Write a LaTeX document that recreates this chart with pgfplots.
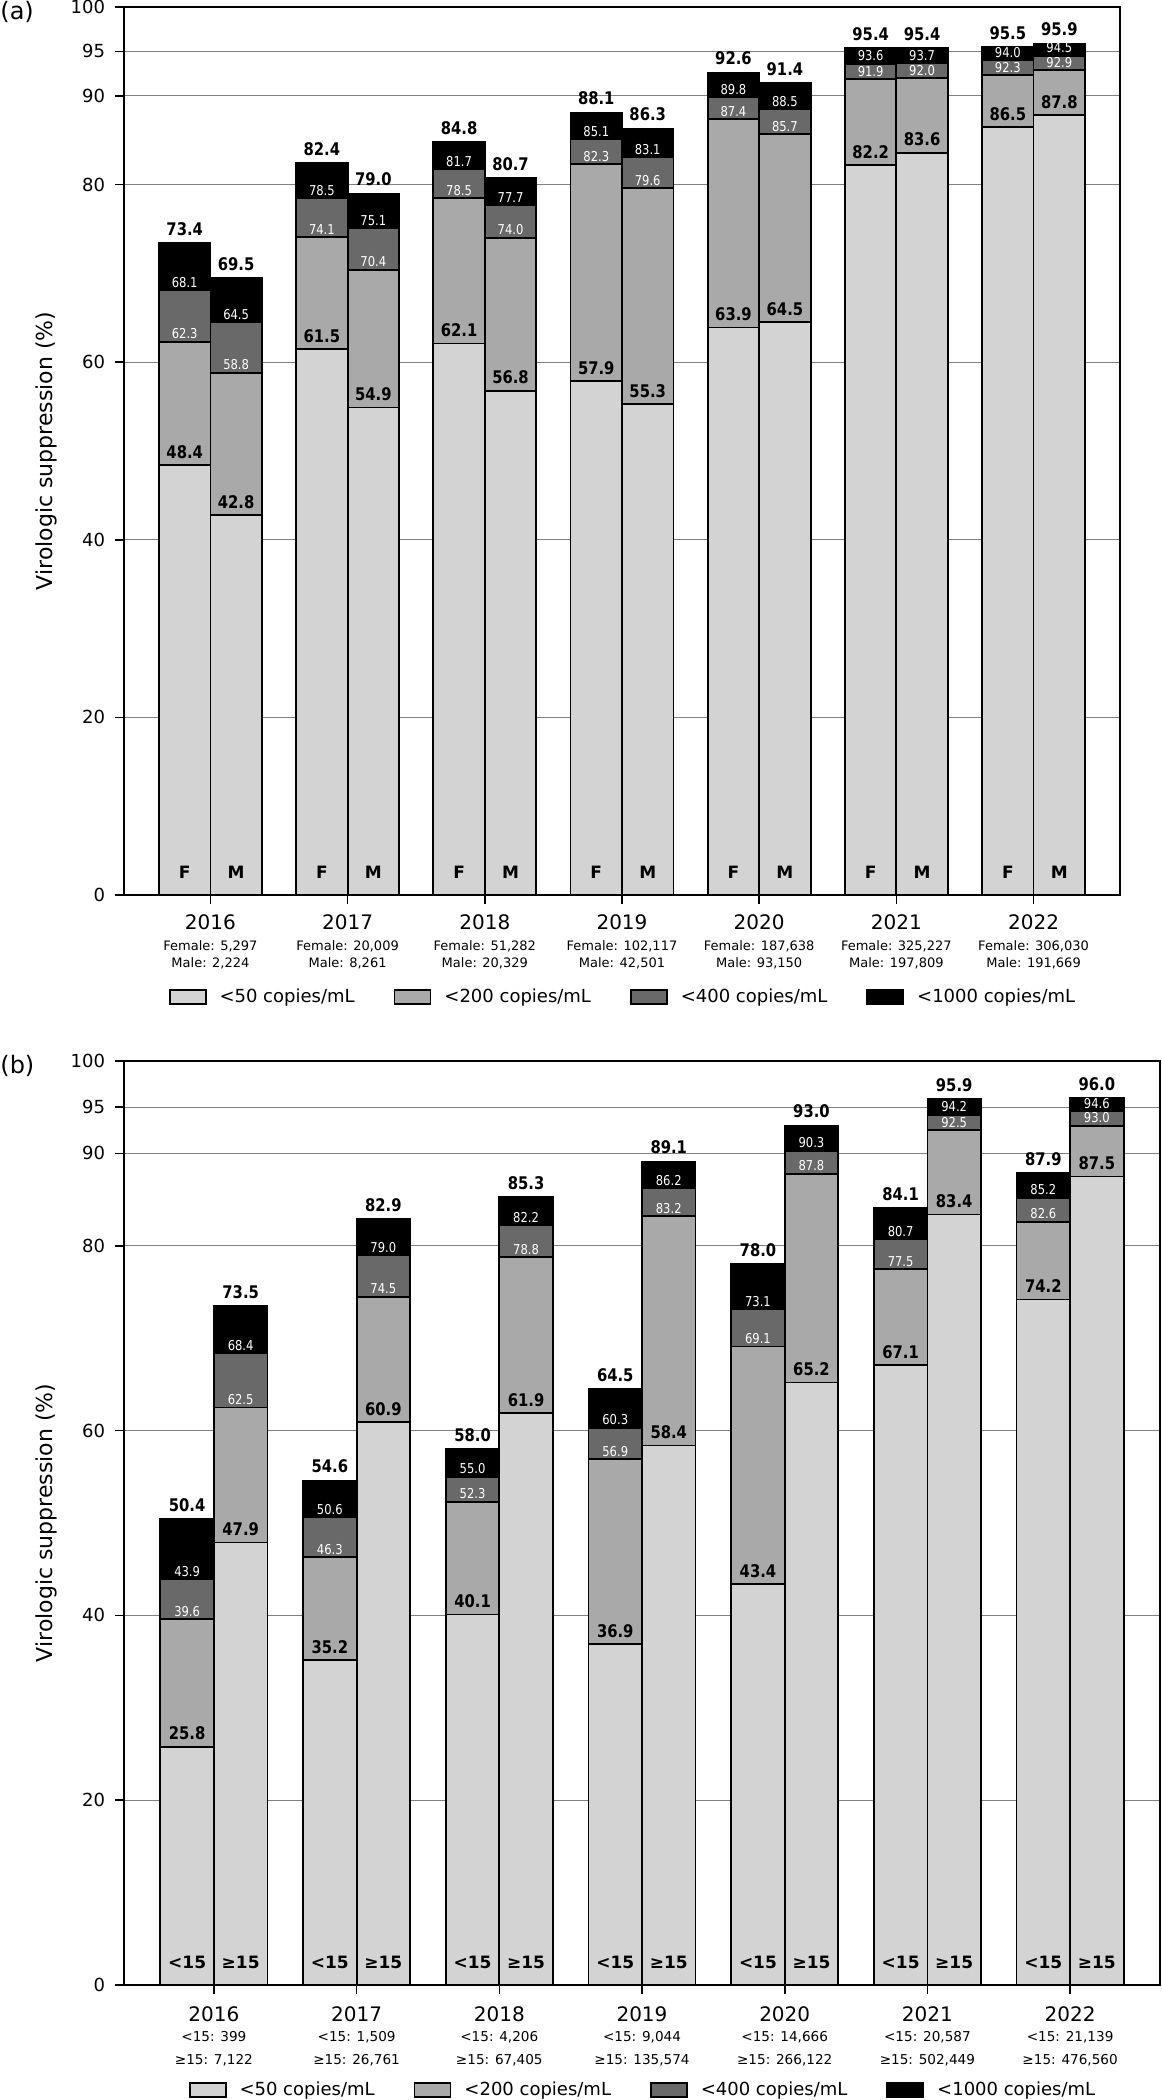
\documentclass[border=0pt]{standalone}
\usepackage{fontspec}
\setmainfont{DejaVu Sans}
\newfontfamily\condfont[FakeStretch=0.85]{DejaVu Sans}
\usepackage{pgfplots}
\usepackage{pgfplotstable}
\pgfplotsset{compat=1.18}
\definecolor{c50}{HTML}{D3D3D3}
\definecolor{c200}{HTML}{A9A9A9}
\definecolor{c400}{HTML}{696969}
\newcommand\vbold{\condfont\bfseries\fontsize{8.7}{10}\selectfont}
\newcommand\vsmall{\condfont\fontsize{6.8}{8}\selectfont}
\newcommand\gbold{\bfseries\fontsize{8.5}{10}\selectfont}
\newcommand\nfont{\fontsize{6.5}{7.5}\selectfont}
\newcommand\nfontb{\fontsize{6.8}{8}\selectfont}
\newcommand\yfont{\fontsize{10}{12}\selectfont}

\pgfplotstableread{
x l50 l200 l400 l1000
0 48.4 62.3 68.1 73.4
1 61.5 74.1 78.5 82.4
2 62.1 78.5 81.7 84.8
3 57.9 82.3 85.1 88.1
4 63.9 87.4 89.8 92.6
5 82.2 91.9 93.6 95.4
6 86.5 92.3 94.0 95.5
}\aF
\pgfplotstableread{
x l50 l200 l400 l1000
0 42.8 58.8 64.5 69.5
1 54.9 70.4 75.1 79.0
2 56.8 74.0 77.7 80.7
3 55.3 79.6 83.1 86.3
4 64.5 85.7 88.5 91.4
5 83.6 92.0 93.7 95.4
6 87.8 92.9 94.5 95.9
}\aM
\pgfplotstableread{
x l50 l200 l400 l1000
0 25.8 39.6 43.9 50.4
1 35.2 46.3 50.6 54.6
2 40.1 52.3 55.0 58.0
3 36.9 56.9 60.3 64.5
4 43.4 69.1 73.1 78.0
5 67.1 77.5 80.7 84.1
6 74.2 82.6 85.2 87.9
}\bY
\pgfplotstableread{
x l50 l200 l400 l1000
0 47.9 62.5 68.4 73.5
1 60.9 74.5 79.0 82.9
2 61.9 78.8 82.2 85.3
3 58.4 83.2 86.2 89.1
4 65.2 87.8 90.3 93.0
5 83.4 92.5 94.2 95.9
6 87.5 93.0 94.6 96.0
}\bO

\pgfplotsset{
  /pgf/number format/assume math mode=true,
  panel/.style={
    scale only axis, anchor=south west,
    xmin=-0.63, xmax=6.63, ymin=0, ymax=100,
    xtick={0,...,6}, xticklabels={2016,2017,2018,2019,2020,2021,2022},
    ytick={0,20,40,60,80,90,95,100},
    tick align=outside, tick pos=left, major tick length=4.5pt,
    tick style={black, line width=0.8pt},
    axis line style={black, line width=1pt},
    ymajorgrids, major grid style={gray, line width=0.6pt},
    clip=false,
    yticklabel style={font=\fontsize{9}{10}\selectfont, anchor=east, inner sep=0pt, xshift=-4.75pt},
    every axis y label/.style={at={(axis description cs:0,0.5)}, anchor=center, xshift=-39pt, rotate=90, font=\fontsize{11}{13}\selectfont},
    ylabel={Virologic suppression (\%)},
    legend columns=4,
    legend style={draw=none, fill=none, anchor=center, font=\fontsize{9}{10}\selectfont,
      /tikz/every odd column/.append style={column sep=6.5pt},
      /tikz/every even column/.append style={column sep=19.5pt},
      nodes={inner sep=0pt}},
  },
  bar/.style={ybar, /pgf/bar width=0.375, /pgf/bar shift=0pt, draw=black, line width=0.9pt, forget plot, point meta=y},
  lblTop/.style={nodes near coords={\pgfmathprintnumber[fixed,fixed zerofill,precision=1]{\pgfplotspointmeta}},
    every node near coord/.append style={font=\vbold, text=black, anchor=south, inner sep=0pt, yshift=3.3pt}},
  lblIn/.style={nodes near coords={\pgfmathprintnumber[fixed,fixed zerofill,precision=1]{\pgfplotspointmeta}},
    every node near coord/.append style={font=\vbold, text=black, anchor=south, inner sep=0pt, yshift=2.8pt}},
  lblSmall/.style={nodes near coords={\pgfmathprintnumber[fixed,fixed zerofill,precision=1]{\pgfplotspointmeta}},
    every node near coord/.append style={font=\vsmall, text=white, anchor=south, inner sep=0pt, yshift=0.9pt}},
  grp/.style={draw=none, forget plot, point meta=explicit symbolic, nodes near coords,
    every node near coord/.append style={font=\gbold, text=black, anchor=center, inner sep=0pt, yshift=11.5pt}},
}

\begin{document}
\begin{tikzpicture}
\path[use as bounding box] (0pt,0pt) rectangle (581pt,-1050pt);
\node[anchor=north west, inner sep=0pt, font=\fontsize{12}{14}\selectfont] at (0pt,-0.5pt) {(a)};
\node[anchor=north west, inner sep=0pt, font=\fontsize{12}{14}\selectfont] at (0pt,-527.5pt) {(b)};

% ---------------- panel (a)
\begin{axis}[panel, at={(62pt,-447.5pt)}, width=498pt, height=444pt,
  xticklabel style={font=\yfont, anchor=north, inner sep=0pt, yshift=-5.15pt},
  legend style={at={(0.5,-0.1149)}},
  legend image code/.code={\draw[#1] (0pt,-3.5pt) rectangle (18pt,3.5pt);}]
\addlegendimage{fill=c50, draw=black, line width=0.9pt}
\addlegendentry{<50 copies/mL}
\addlegendimage{fill=c200, draw=black, line width=0.9pt}
\addlegendentry{<200 copies/mL}
\addlegendimage{fill=c400, draw=black, line width=0.9pt}
\addlegendentry{<400 copies/mL}
\addlegendimage{fill=black, draw=black, line width=0.9pt}
\addlegendentry{<1000 copies/mL}

\addplot[bar, fill=black, lblTop] table[x expr=\thisrow{x}-0.1875, y=l1000] {\aF};
\addplot[bar, fill=c400, lblSmall] table[x expr=\thisrow{x}-0.1875, y=l400] {\aF};
\addplot[bar, fill=c200, lblSmall] table[x expr=\thisrow{x}-0.1875, y=l200] {\aF};
\addplot[bar, fill=c50, lblIn] table[x expr=\thisrow{x}-0.1875, y=l50] {\aF};
\addplot[bar, fill=black, lblTop] table[x expr=\thisrow{x}+0.1875, y=l1000] {\aM};
\addplot[bar, fill=c400, lblSmall] table[x expr=\thisrow{x}+0.1875, y=l400] {\aM};
\addplot[bar, fill=c200, lblSmall] table[x expr=\thisrow{x}+0.1875, y=l200] {\aM};
\addplot[bar, fill=c50, lblIn] table[x expr=\thisrow{x}+0.1875, y=l50] {\aM};

\addplot[grp] table[meta=t] {
x y t
-0.1875 0 F
0.1875 0 M
0.8125 0 F
1.1875 0 M
1.8125 0 F
2.1875 0 M
2.8125 0 F
3.1875 0 M
3.8125 0 F
4.1875 0 M
4.8125 0 F
5.1875 0 M
5.8125 0 F
6.1875 0 M
};

\node[font=\nfont, anchor=base, yshift=-27.85pt] at (axis cs:0,0) {Female: 5,297};
\node[font=\nfont, anchor=base, yshift=-36.15pt] at (axis cs:0,0) {Male: 2,224};
\node[font=\nfont, anchor=base, yshift=-27.85pt] at (axis cs:1,0) {Female: 20,009};
\node[font=\nfont, anchor=base, yshift=-36.15pt] at (axis cs:1,0) {Male: 8,261};
\node[font=\nfont, anchor=base, yshift=-27.85pt] at (axis cs:2,0) {Female: 51,282};
\node[font=\nfont, anchor=base, yshift=-36.15pt] at (axis cs:2,0) {Male: 20,329};
\node[font=\nfont, anchor=base, yshift=-27.85pt] at (axis cs:3,0) {Female: 102,117};
\node[font=\nfont, anchor=base, yshift=-36.15pt] at (axis cs:3,0) {Male: 42,501};
\node[font=\nfont, anchor=base, yshift=-27.85pt] at (axis cs:4,0) {Female: 187,638};
\node[font=\nfont, anchor=base, yshift=-36.15pt] at (axis cs:4,0) {Male: 93,150};
\node[font=\nfont, anchor=base, yshift=-27.85pt] at (axis cs:5,0) {Female: 325,227};
\node[font=\nfont, anchor=base, yshift=-36.15pt] at (axis cs:5,0) {Male: 197,809};
\node[font=\nfont, anchor=base, yshift=-27.85pt] at (axis cs:6,0) {Female: 306,030};
\node[font=\nfont, anchor=base, yshift=-36.15pt] at (axis cs:6,0) {Male: 191,669};
\end{axis}

% ---------------- panel (b)
\begin{axis}[panel, at={(62pt,-992.5pt)}, width=518pt, height=462pt,
  xticklabel style={font=\yfont, anchor=north, inner sep=0pt, yshift=-6.05pt},
  legend style={at={(0.5,-0.1136)}},
  legend image code/.code={\draw[#1] (0pt,-3.5pt) rectangle (18pt,3.5pt);}]
\addlegendimage{fill=c50, draw=black, line width=0.9pt}
\addlegendentry{<50 copies/mL}
\addlegendimage{fill=c200, draw=black, line width=0.9pt}
\addlegendentry{<200 copies/mL}
\addlegendimage{fill=c400, draw=black, line width=0.9pt}
\addlegendentry{<400 copies/mL}
\addlegendimage{fill=black, draw=black, line width=0.9pt}
\addlegendentry{<1000 copies/mL}

\addplot[bar, fill=black, lblTop] table[x expr=\thisrow{x}-0.1875, y=l1000] {\bY};
\addplot[bar, fill=c400, lblSmall] table[x expr=\thisrow{x}-0.1875, y=l400] {\bY};
\addplot[bar, fill=c200, lblSmall] table[x expr=\thisrow{x}-0.1875, y=l200] {\bY};
\addplot[bar, fill=c50, lblIn] table[x expr=\thisrow{x}-0.1875, y=l50] {\bY};
\addplot[bar, fill=black, lblTop] table[x expr=\thisrow{x}+0.1875, y=l1000] {\bO};
\addplot[bar, fill=c400, lblSmall] table[x expr=\thisrow{x}+0.1875, y=l400] {\bO};
\addplot[bar, fill=c200, lblSmall] table[x expr=\thisrow{x}+0.1875, y=l200] {\bO};
\addplot[bar, fill=c50, lblIn] table[x expr=\thisrow{x}+0.1875, y=l50] {\bO};

\addplot[grp] table[meta=t] {
x y t
-0.1875 0 <15
0.1875 0 ≥15
0.8125 0 <15
1.1875 0 ≥15
1.8125 0 <15
2.1875 0 ≥15
2.8125 0 <15
3.1875 0 ≥15
3.8125 0 <15
4.1875 0 ≥15
4.8125 0 <15
5.1875 0 ≥15
5.8125 0 <15
6.1875 0 ≥15
};

\node[font=\nfontb, anchor=base, yshift=-28.25pt] at (axis cs:0,0) {<15: 399};
\node[font=\nfontb, anchor=base, yshift=-39.65pt] at (axis cs:0,0) {≥15: 7,122};
\node[font=\nfontb, anchor=base, yshift=-28.25pt] at (axis cs:1,0) {<15: 1,509};
\node[font=\nfontb, anchor=base, yshift=-39.65pt] at (axis cs:1,0) {≥15: 26,761};
\node[font=\nfontb, anchor=base, yshift=-28.25pt] at (axis cs:2,0) {<15: 4,206};
\node[font=\nfontb, anchor=base, yshift=-39.65pt] at (axis cs:2,0) {≥15: 67,405};
\node[font=\nfontb, anchor=base, yshift=-28.25pt] at (axis cs:3,0) {<15: 9,044};
\node[font=\nfontb, anchor=base, yshift=-39.65pt] at (axis cs:3,0) {≥15: 135,574};
\node[font=\nfontb, anchor=base, yshift=-28.25pt] at (axis cs:4,0) {<15: 14,666};
\node[font=\nfontb, anchor=base, yshift=-39.65pt] at (axis cs:4,0) {≥15: 266,122};
\node[font=\nfontb, anchor=base, yshift=-28.25pt] at (axis cs:5,0) {<15: 20,587};
\node[font=\nfontb, anchor=base, yshift=-39.65pt] at (axis cs:5,0) {≥15: 502,449};
\node[font=\nfontb, anchor=base, yshift=-28.25pt] at (axis cs:6,0) {<15: 21,139};
\node[font=\nfontb, anchor=base, yshift=-39.65pt] at (axis cs:6,0) {≥15: 476,560};
\end{axis}
\end{tikzpicture}
\end{document}
